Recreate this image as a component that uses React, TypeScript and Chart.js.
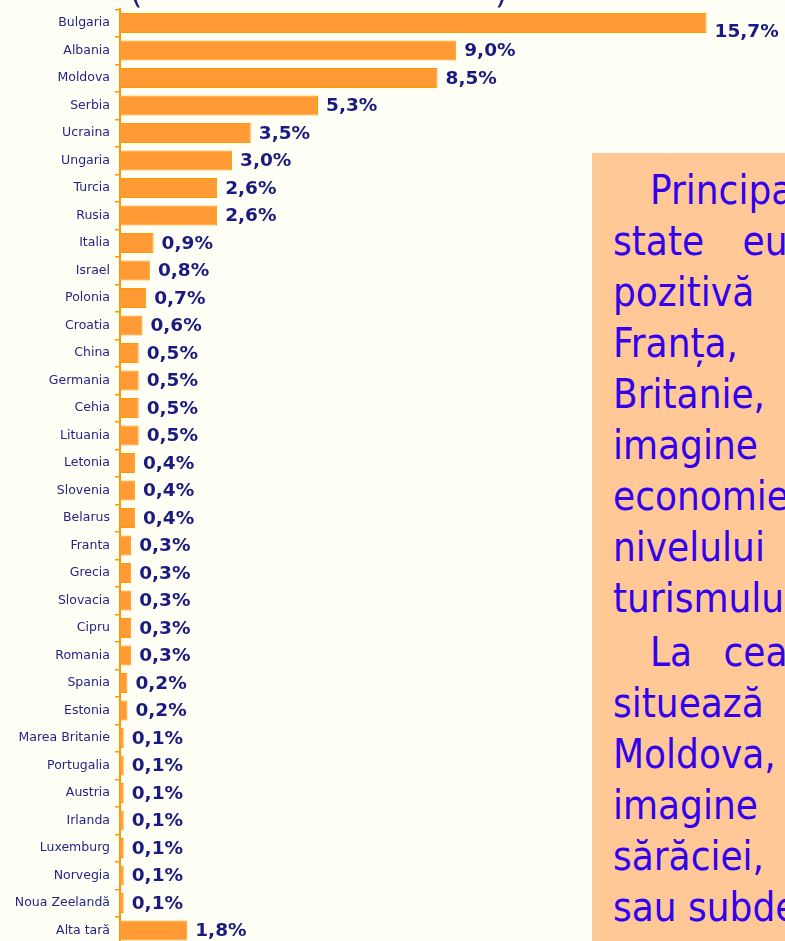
import React, { useEffect, useRef } from "react";
import { Chart, registerables } from "chart.js";

Chart.register(...registerables);

const categories: string[] = [
  "Bulgaria", "Albania", "Moldova", "Serbia", "Ucraina", "Ungaria", "Turcia", "Rusia",
  "Italia", "Israel", "Polonia", "Croatia", "China", "Germania", "Cehia", "Lituania",
  "Letonia", "Slovenia", "Belarus", "Franta", "Grecia", "Slovacia", "Cipru", "Romania",
  "Spania", "Estonia", "Marea Britanie", "Portugalia", "Austria", "Irlanda", "Luxemburg",
  "Norvegia", "Noua Zeelandă", "Alta tară",
];

const values: number[] = [
  15.7, 9.0, 8.5, 5.3, 3.5, 3.0, 2.6, 2.6,
  0.9, 0.8, 0.7, 0.6, 0.5, 0.5, 0.5, 0.5,
  0.4, 0.4, 0.4, 0.3, 0.3, 0.3, 0.3, 0.3,
  0.2, 0.2, 0.1, 0.1, 0.1, 0.1, 0.1,
  0.1, 0.1, 1.8,
];

const textLines: { text: string; indent?: boolean; gap?: number; paraTop?: boolean }[] = [
  { text: "Principalele", indent: true },
  { text: "state europene", gap: 27 },
  { text: "pozitivă" },
  { text: "Franța," },
  { text: "Britanie," },
  { text: "imagine" },
  { text: "economiei" },
  { text: "nivelului" },
  { text: "turismului" },
  { text: "La cealaltă", indent: true, gap: 20, paraTop: true },
  { text: "situează" },
  { text: "Moldova," },
  { text: "imagine" },
  { text: "sărăciei," },
  { text: "sau subdezvoltării" },
];

const BG = "#FFFFF5";
const ORANGE = "#FF9900";
const BAR = "#FF9A35";
const NAVY = "#1A1A80";

const fmt = (v: number) => v.toFixed(1).replace(".", ",") + "%";

const valueLabels = {
  id: "valueLabels",
  afterDatasetsDraw(chart: any) {
    const ctx = chart.ctx;
    const meta = chart.getDatasetMeta(0);
    ctx.save();
    ctx.font = "bold 18.5px 'DejaVu Sans'";
    ctx.fillStyle = NAVY;
    ctx.textAlign = "left";
    ctx.textBaseline = "middle";
    meta.data.forEach((bar: any, i: number) => {
      const v = chart.data.datasets[0].data[i];
      const dy = i === 0 ? 9 : 1;
      ctx.fillText(fmt(v), bar.x + 8, bar.y + dy);
    });
    ctx.restore();
  },
};

export default function App() {
  const ref = useRef<HTMLCanvasElement | null>(null);

  useEffect(() => {
    if (!ref.current) return;
    const chart = new Chart(ref.current, {
      type: "bar",
      data: {
        labels: categories,
        datasets: [
          {
            data: values,
            backgroundColor: BAR,
            borderColor: ORANGE,
            borderWidth: 1,
            barPercentage: 0.73,
            categoryPercentage: 1,
          },
        ],
      },
      options: {
        indexAxis: "y",
        animation: false,
        responsive: false,
        maintainAspectRatio: false,
        layout: { padding: { top: 9.3, bottom: 5.7, left: 0, right: 0 } },
        plugins: {
          legend: { display: false },
          tooltip: { enabled: false },
        },
        scales: {
          x: { display: false, min: 0, max: 17.8 },
          y: {
            afterFit: (s: any) => {
              s.width = 120;
              s.paddingTop = 0;
              s.paddingBottom = 0;
            },
            grid: {
              display: true,
              drawOnChartArea: false,
              drawTicks: true,
              tickLength: 5,
              color: ORANGE,
              lineWidth: 1.5,
              offset: true,
            },
            border: { display: true, color: ORANGE, width: 2 },
            ticks: {
              color: "#24248A",
              padding: 5,
              autoSkip: false,
              font: { family: "'DejaVu Sans'", size: 12.5 },
            },
          },
        },
      },
      plugins: [valueLabels],
    });
    return () => chart.destroy();
  }, []);

  return (
    <div
      style={{
        position: "absolute",
        left: 0,
        top: 0,
        width: 785,
        height: 941,
        overflow: "hidden",
        background: BG,
      }}
    >
      <canvas
        ref={ref}
        width={785}
        height={950}
        style={{ position: "absolute", left: 0, top: 0, width: 785, height: 950 }}
      />
      <div
        style={{
          position: "absolute",
          top: -24,
          left: 0,
          fontFamily: "'DejaVu Sans'",
          fontSize: 32,
          lineHeight: "32px",
          color: NAVY,
        }}
      >
        <span style={{ position: "absolute", left: 130 }}>(</span>
        <span style={{ position: "absolute", left: 495 }}>)</span>
      </div>
      <div
        style={{
          position: "absolute",
          left: 592,
          top: 153,
          width: 193,
          height: 788,
          overflow: "hidden",
          background: "#FFC896",
        }}
      >
        <div
          style={{
            paddingTop: 12,
            paddingLeft: 21,
            fontFamily: "'DejaVu Sans'",
            fontStretch: "condensed",
            fontSize: 40,
            lineHeight: "51px",
            color: "#3300EE",
            whiteSpace: "nowrap",
          }}
        >
          {textLines.map((l, i) => (
            <div
              key={i}
              style={{
                textIndent: l.indent ? 37 : 0,
                wordSpacing: l.gap ? l.gap : 0,
                marginTop: l.paraTop ? 3 : 0,
              }}
            >
              {l.text}
            </div>
          ))}
        </div>
      </div>
    </div>
  );
}
